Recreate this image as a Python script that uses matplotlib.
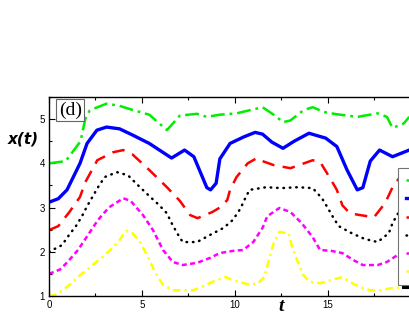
import matplotlib
matplotlib.use("Agg")
import matplotlib.pyplot as plt
from matplotlib.ticker import FixedLocator, MultipleLocator

plt.rcParams["lines.scale_dashes"] = False

# values
t_green = [0, 0.9, 1.7, 1.95, 2.2, 3.1, 3.8, 4.4, 5.4, 6.35, 7.05, 7.97, 8.5, 9.2, 10.1,
           10.8, 11.5, 12.2, 12.6, 13.0, 13.7, 14.2, 14.8, 15.5, 16.6, 17.7, 18.2, 18.5,
           19.1, 19.4]
x_green = [4.0, 4.05, 4.5, 5.0, 5.2, 5.35, 5.3, 5.22, 5.1, 4.75, 5.08, 5.12, 5.05, 5.1, 5.13,
           5.2, 5.27, 5.07, 4.93, 4.97, 5.2, 5.27, 5.16, 5.11, 5.05, 5.13, 5.05, 4.8,
           4.9, 5.05]

t_blue = [0, 0.5, 0.97, 1.67, 2.05, 2.58, 3.1, 3.8, 4.5, 5.4, 6.6, 7.3, 7.8, 8.1, 8.5, 8.7,
          9.0, 9.2, 9.75, 10.5, 11.1, 11.5, 12.0, 12.6, 13.2, 14.0, 14.9, 15.5, 16.05,
          16.6, 16.9, 17.3, 17.8, 18.5, 19.4]
x_blue = [3.12, 3.2, 3.4, 4.0, 4.45, 4.75, 4.82, 4.78, 4.64, 4.45, 4.12, 4.3, 4.15, 3.85,
          3.45, 3.4, 3.55, 4.1, 4.45, 4.6, 4.7, 4.66, 4.48, 4.34, 4.5, 4.68, 4.57, 4.38,
          3.85, 3.4, 3.45, 4.05, 4.3, 4.15, 4.3]

t_red = [0, 0.5, 1.1, 1.67, 1.95, 2.6, 3.45, 4.0, 4.5, 5.4, 6.35, 7.05, 7.6, 8.0, 8.8, 9.2,
         9.6, 9.75, 10.1, 10.7, 11.2, 11.5, 12.1, 13.0, 13.4, 14.2, 14.6, 15.1, 15.5,
         15.8, 16.2, 16.75, 17.5, 17.8, 18.1, 18.5, 18.9, 19.4]
x_red = [2.49, 2.58, 2.9, 3.24, 3.57, 4.07, 4.25, 4.3, 4.2, 3.85, 3.46, 3.15, 2.83, 2.76,
         2.9, 3.0, 3.17, 3.4, 3.69, 4.0, 4.12, 4.05, 3.96, 3.89, 3.95, 4.07, 4.03, 3.69,
         3.4, 3.05, 2.87, 2.83, 2.78, 2.94, 3.1, 3.46, 3.69, 3.9]

t_black = [0, 0.7, 1.08, 1.45, 1.77, 2.05, 2.64, 3.0, 3.66, 4.25, 4.9, 5.4, 5.87, 6.35,
           6.6, 6.9, 7.2, 7.97, 8.67, 9.4, 9.9, 10.3, 10.6, 10.8, 11.7, 12.5, 13.4, 14.2,
           14.7, 15.0, 15.3, 15.6, 16.3, 17.0, 17.7, 18.3, 18.5, 18.8, 19.4]
x_black = [2.0, 2.15, 2.38, 2.58, 2.8, 3.03, 3.46, 3.69, 3.8, 3.73, 3.46, 3.26, 3.08, 2.87,
           2.65, 2.42, 2.22, 2.22, 2.38, 2.54, 2.72, 2.97, 3.24, 3.4, 3.46, 3.44, 3.46, 3.44,
           3.21, 3.0, 2.78, 2.58, 2.42, 2.29, 2.22, 2.42, 2.65, 2.87, 3.1]

t_magenta = [0, 0.6, 1.0, 1.56, 2.1, 2.64, 3.2, 3.4, 4.0, 4.4, 5.06, 5.6, 6.14, 6.67, 7.2,
             7.97, 8.67, 9.2, 9.9, 10.45, 11.0, 11.5, 11.75, 12.4, 13.0, 13.6, 14.2, 14.6,
             15.2, 15.8, 16.4, 16.9, 17.7, 18.2, 18.6, 19.4]
x_magenta = [1.5, 1.6, 1.77, 2.04, 2.38, 2.72, 2.99, 3.05, 3.21, 3.15, 2.83, 2.49, 2.04,
             1.77, 1.7, 1.75, 1.86, 1.97, 2.02, 2.04, 2.22, 2.54, 2.8, 2.99, 2.9, 2.65,
             2.33, 2.04, 2.02, 1.97, 1.81, 1.7, 1.7, 1.77, 1.88, 2.1]

t_yellow = [0, 0.32, 0.75, 1.2, 1.67, 2.2, 2.75, 3.2, 3.72, 4.15, 4.5, 4.9, 5.33, 5.7, 6.14,
            6.67, 7.75, 8.2, 8.8, 9.5, 9.9, 10.66, 11.2, 11.6, 11.8, 12.1, 12.4, 12.9, 13.1,
            13.4, 13.7, 14.05, 14.6, 15.2, 15.8, 16.2, 16.75, 17.3, 17.8, 18.5, 19.4]
x_yellow = [1.0, 1.02, 1.13, 1.29, 1.47, 1.65, 1.84, 2.0, 2.22, 2.47, 2.42, 2.22, 1.88,
            1.54, 1.25, 1.13, 1.13, 1.2, 1.32, 1.43, 1.36, 1.27, 1.27, 1.43, 1.75, 2.2,
            2.45, 2.42, 2.1, 1.77, 1.47, 1.32, 1.29, 1.36, 1.43, 1.32, 1.2, 1.13, 1.13,
            1.18, 1.2]

fig = plt.figure(figsize=(4.09, 3.27), dpi=100)
# axes run past the right edge of the figure, like the cropped original
ax = fig.add_axes([49 / 409, 31 / 327, 371.4 / 409, 199 / 327])

lw = 1.8
l1, = ax.plot(t_green, x_green, color="#00ee00", lw=lw, dashes=(10, 3.5, 2, 3.5))
l2, = ax.plot(t_blue, x_blue, color="#0000ff", lw=2.4)
l3, = ax.plot(t_red, x_red, color="#ff0000", lw=lw, dashes=(9, 6))
l4, = ax.plot(t_black, x_black, color="black", lw=lw, dashes=(0.4, 4.2),
              dash_capstyle="round")
l5, = ax.plot(t_magenta, x_magenta, color="#ff00ff", lw=lw, dashes=(3.6, 2.4))
l6, = ax.plot(t_yellow, x_yellow, color="#ffff00", lw=lw, dashes=(5.5, 3, 1.5, 3))

ax.set_xlim(0, 20)
ax.set_ylim(1, 5.5)
ax.xaxis.set_major_locator(FixedLocator([0, 5, 10, 15]))
ax.xaxis.set_minor_locator(FixedLocator([2.5, 7.5, 12.5, 17.5]))
ax.yaxis.set_major_locator(MultipleLocator(1))
ax.yaxis.set_minor_locator(MultipleLocator(0.5))
ax.tick_params(which="both", direction="in", top=True, right=False,
               labelsize=7, pad=3, width=0.8)
ax.tick_params(which="major", length=4)
ax.tick_params(which="minor", length=2.5)
for lab in ax.get_xticklabels() + ax.get_yticklabels():
    lab.set_family("Liberation Sans")
for sp in ax.spines.values():
    sp.set_linewidth(1.0)

ax.text(12.5, 0.77, "t", fontsize=14, fontstyle="italic", fontweight="bold",
        family="Liberation Serif", ha="center", va="center")
fig.text(23 / 409, 1 - 139 / 327, "x(t)", fontsize=11, fontstyle="italic",
         fontweight="bold", family="DejaVu Sans", ha="center", va="center")
ax.text(0.026, 0.978, "(d)", transform=ax.transAxes, fontsize=14,
        family="Liberation Serif", ha="left", va="top",
        bbox=dict(boxstyle="square,pad=0.12", fc="white", ec="0.4", lw=0.8))

leg = ax.legend([l1, l2, l3, l4, l5, l6], ["", "", "", "", "", ""],
                loc="upper left", bbox_to_anchor=(0.94, 0.643), borderaxespad=0,
                fontsize=8, labelspacing=0.74, handlelength=2.5, borderpad=0.72,
                fancybox=False, framealpha=1, edgecolor="0.45",
                shadow={"color": "black", "alpha": 1, "ox": 3, "oy": -2})
leg.get_frame().set_linewidth(0.8)

fig.savefig("out.png", dpi=100)
